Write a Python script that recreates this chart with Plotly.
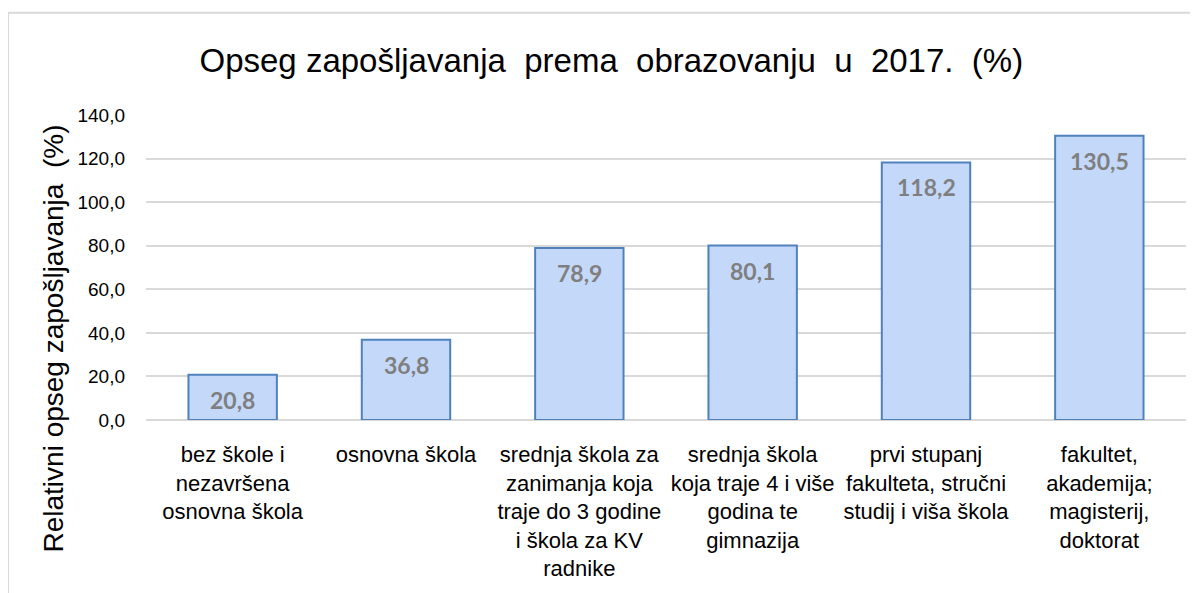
import plotly.graph_objects as go

categories = [
    "bez škole i<br>nezavršena<br>osnovna škola",
    "osnovna škola",
    "srednja škola za<br>zanimanja koja<br>traje do 3 godine<br>i škola za KV<br>radnike",
    "srednja škola<br>koja traje 4 i više<br>godina te<br>gimnazija",
    "prvi stupanj<br>fakulteta, stručni<br>studij i viša škola",
    "fakultet,<br>akademija;<br>magisterij,<br>doktorat",
]
values = [20.8, 36.8, 78.9, 80.1, 118.2, 130.5]
value_labels = ["20,8", "36,8", "78,9", "80,1", "118,2", "130,5"]
tick_vals = [0, 20, 40, 60, 80, 100, 120, 140]
tick_text = ["0,0", "20,0", "40,0", "60,0", "80,0", "100,0", "120,0", "140,0"]

fig = go.Figure()
fig.add_trace(go.Bar(
    x=categories, y=values,
    marker=dict(color="#c4d8fa", line=dict(color="#4f81bd", width=2)),
    width=0.51,
    hoverinfo="skip",
))

for c, v, t in zip(categories, values, value_labels):
    fig.add_annotation(x=c, y=v, text=t, showarrow=False, yshift=-25,
                       font=dict(family="Lato", size=23, color="#7f7f7f", weight="bold"))

fig.add_annotation(xref="paper", yref="paper", x=-0.0885, y=0.267,
                   xanchor="center", yanchor="middle",
                   text="Relativni opseg zapošljavanja  (%)", textangle=-90,
                   showarrow=False, font=dict(family="Liberation Sans", size=28, color="#000000"))

# chart frame
fig.add_shape(type="rect", xref="paper", yref="paper",
              x0=-0.1327, x1=1.2, y0=-0.7, y1=1.3355,
              line=dict(color="#d9d9d9", width=2), layer="below")

fig.update_layout(
    width=1190, height=585,
    margin=dict(l=138, r=12, t=107, b=171),
    paper_bgcolor="white", plot_bgcolor="white",
    title=dict(text="Opseg zapošljavanja  prema  obrazovanju  u  2017.  (%)",
               x=0.507, xanchor="center", y=0.911, yanchor="middle",
               font=dict(family="Liberation Sans", size=33, color="#000000")),
    showlegend=False,
    bargap=0.49,
)
fig.update_xaxes(tickfont=dict(family="Liberation Sans", size=22, color="#000000"),
                 showline=False, ticks="", tickangle=0, ticklabelstandoff=19)
fig.update_yaxes(range=[0, 140], tickvals=tick_vals, ticktext=tick_text,
                 tickfont=dict(family="Liberation Sans", size=19, color="#000000"),
                 gridcolor="#d9d9d9", gridwidth=2, zeroline=True, zerolinecolor="#d9d9d9",
                 zerolinewidth=2, ticks="", ticklabelstandoff=20)

fig.write_html("out.html")
